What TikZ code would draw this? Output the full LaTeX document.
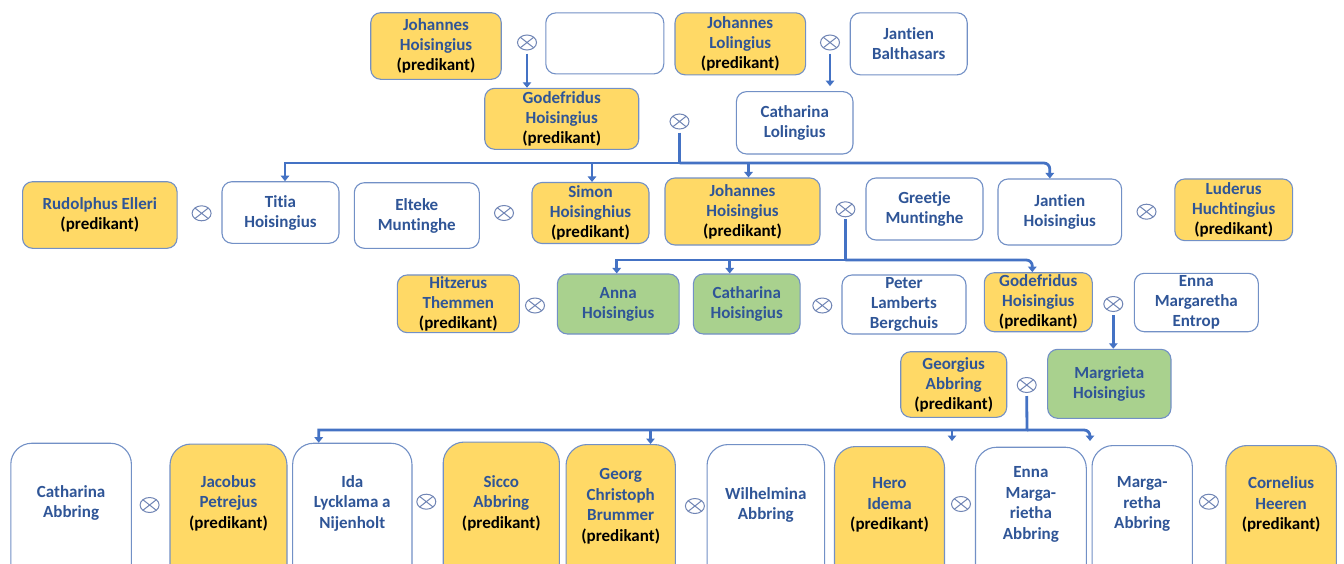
\documentclass[tikz,border=0pt]{standalone}
\usepackage{fontspec}
\setmainfont{Carlito}[Ligatures={NoCommon}]
\usetikzlibrary{arrows.meta,shapes.geometric,calc}
\definecolor{txtblue}{HTML}{2F5597}
\definecolor{gold}{HTML}{FFD966}
\definecolor{grn}{HTML}{A9D18E}
\definecolor{edgeblue}{HTML}{7290C6}
\definecolor{conn}{HTML}{4472C4}
\definecolor{markblue}{HTML}{7085B5}
\tikzset{
  person/.style={draw=edgeblue, line width=1.1pt, rounded corners=10pt, align=center,
    font=\bfseries\fontsize{17}{20}\selectfont, text=txtblue, inner sep=0pt},
  wbox/.style={person, fill=white},
  ybox/.style={person, fill=gold},
  gbox/.style={person, fill=grn},
  lowbox/.style={draw=edgeblue, line width=1.1pt, rounded corners=21pt, anchor=north,
    minimum height=180pt, inner sep=0pt},
  lowtext/.style={align=center, font=\bfseries\fontsize{17}{20.5}\selectfont, text=txtblue, inner sep=0pt},
  marr/.style={ellipse, draw=markblue, line width=1pt, minimum width=19pt, minimum height=15pt,
    inner sep=0pt, path picture={\draw[markblue, line width=1pt]
      (path picture bounding box.north west) -- (path picture bounding box.south east)
      (path picture bounding box.north east) -- (path picture bounding box.south west);}},
  link/.style={draw=conn, line width=2.8pt, -{Triangle[width=8.5pt,length=5.5pt]}},
}
\newcommand{\pred}{\\\textcolor{black}{(predikant)}}
\begin{document}
\begin{tikzpicture}[x=1pt,y=-1pt]
\useasboundingbox (0,0) rectangle (1344,563);
\fill[white] (0,0) rectangle (1344,563);
\clip (0,0) rectangle (1344,563);

% Row 1
\node[ybox, minimum width=130.5, minimum height=66.6] (jh1) at (436,46) {Johannes\\Hoisingius\pred};
\node[wbox, minimum width=118, minimum height=61] (unk) at (604.8,43.4) {};
\node[ybox, minimum width=130.6, minimum height=62] (jl) at (740.3,43.8) {Johannes\\Lolingius\pred};
\node[wbox, minimum width=117, minimum height=62] (jb) at (908.7,43.8) {Jantien\\Balthasars};
\node[marr] (m1) at (527,42.5) {};
\node[marr] (m2) at (830,42.5) {};

% Row 2
\node[ybox, minimum width=154, minimum height=61] (gh1) at (561.7,118.8) {Godefridus\\Hoisingius\pred};
\node[wbox, minimum width=116.6, minimum height=62.3] (cl) at (794.7,122.8) {Catharina\\Lolingius};
\node[marr] (m3) at (679.5,121.5) {};

% Row 3
\node[ybox, minimum width=154.5, minimum height=66.6] (re) at (99.8,215) {Rudolphus Elleri\pred};
\node[marr] (m4) at (201.6,213.3) {};
\node[wbox, minimum width=117, minimum height=61.6] (th) at (280.5,212.5) {Titia\\Hoisingius};
\node[wbox, minimum width=125, minimum height=65.6] (em) at (416.8,215.5) {Elteke\\Muntinghe};
\node[marr] (m5) at (504,213) {};
\node[ybox, minimum width=117, minimum height=61] (sh) at (590.5,213) {Simon\\Hoisinghius\pred};
\node[ybox, minimum width=155, minimum height=67] (jh2) at (742.5,211.5) {Johannes\\Hoisingius\pred};
\node[marr] (m6) at (845.4,209.3) {};
\node[wbox, minimum width=117, minimum height=62] (gm) at (924.5,209) {Greetje\\Muntinghe};
\node[wbox, minimum width=123.6, minimum height=66] (jah) at (1059.8,212) {Jantien\\Hoisingius};
\node[marr] (m7) at (1146.5,211.7) {};
\node[ybox, minimum width=117.8, minimum height=61.7] (lh) at (1233.7,209.8) {Luderus\\Huchtingius\pred};

% Row 4
\node[ybox, minimum width=122, minimum height=57.7] (ht) at (458.3,303.8) {Hitzerus\\Themmen\pred};
\node[marr] (m8) at (535,305.5) {};
\node[gbox, minimum width=121.7, minimum height=60] (ah) at (618.2,304) {Anna\\Hoisingius};
\node[gbox, minimum width=106.7, minimum height=60] (ch) at (746.7,304) {Catharina\\Hoisingius};
\node[marr] (m9) at (822.3,305.5) {};
\node[wbox, minimum width=124, minimum height=59] (pb) at (904,304.5) {Peter\\Lamberts\\Bergchuis};
\node[ybox, minimum width=108, minimum height=59] (gh2) at (1038.3,302.2) {Godefridus\\Hoisingius\pred};
\node[marr] (m10) at (1113.3,304) {};
\node[wbox, minimum width=124, minimum height=58.4] (ee) at (1196.3,302.5) {Enna\\Margaretha\\Entrop};

% Row 5
\node[ybox, minimum width=106, minimum height=65.6] (ga) at (953.7,384.5) {Georgius\\Abbring\pred};
\node[marr] (m11) at (1026.7,385) {};
\node[gbox, minimum width=123.3, minimum height=69] (mh) at (1109.3,383.8) {Margrieta\\Hoisingius};

% Row 6 (boxes run off the bottom edge)
\node[lowbox, fill=white, minimum width=120.6] (ca) at (71.1,442.7) {};
\node[lowbox, fill=gold, minimum width=117] (jp) at (228.5,443.5) {};
\node[lowbox, fill=white, minimum width=119.3] (id) at (352.3,442.7) {};
\node[lowbox, fill=gold, minimum width=116.2] (sa) at (501.3,441.5) {};
\node[lowbox, fill=gold, minimum width=109.3] (gc) at (620.7,444) {};
\node[lowbox, fill=white, minimum width=117.5] (wa) at (765.8,444) {};
\node[lowbox, fill=gold, minimum width=110] (hi) at (889.5,446) {};
\node[lowbox, fill=white, minimum width=110.8] (ema) at (1030.9,446.7) {};
\node[lowbox, fill=white, minimum width=100.3] (ma) at (1142.2,445) {};
\node[lowbox, fill=gold, minimum width=110.4] (chr) at (1281.1,445) {};

\node[lowtext] (ca-t) at (71.1,503) {Catharina\\Abbring};
\node[lowtext] (jp-t) at (228.5,503.3) {Jacobus\\Petrejus\pred};
\node[lowtext] (id-t) at (352.3,503) {Ida\\Lycklama a\\Nijenholt};
\node[lowtext] (sa-t) at (501.3,503) {Sicco\\Abbring\pred};
\node[lowtext] (gc-t) at (620.7,506.5) {Georg\\Christoph\\Brummer\pred};
\node[lowtext] (wa-t) at (765.8,505) {Wilhelmina\\Abbring};
\node[lowtext] (hi-t) at (889.5,505) {Hero\\Idema\pred};
\node[lowtext] (ema-t) at (1030.9,504.6) {Enna\\Marga-\\rietha\\Abbring};
\node[lowtext] (ma-t) at (1142.2,504) {Marga-\\retha\\Abbring};
\node[lowtext] (chr-t) at (1281.1,504.7) {Cornelius\\Heeren\pred};
\node[marr] (m12) at (149.6,505) {};
\node[marr] (m13) at (426.3,501.7) {};
\node[marr] (m14) at (694.9,506) {};
\node[marr] (m15) at (961,504) {};
\node[marr] (m16) at (1208.9,501.7) {};

% Connectors
\draw[link] ([yshift=-3]m1.south) -- (m1.south |- gh1.north);
\draw[link] ([yshift=-3]m2.south) -- ([yshift=5]m2.south |- cl.north);

\coordinate (b1) at (679.5,163);
\draw[link] ([yshift=-3]m3.south) -- (b1) -| ([xshift=4.5]th.north);
\draw[link] (b1) -| ([xshift=1.5]sh.north);
\draw[link] (b1) -| ([xshift=6]jh2.north);
\draw[link, rounded corners=6] (b1) -| ([xshift=-10]jah.north);

\coordinate (b2) at (845.4,260);
\draw[link] ([yshift=-2]m6.south) -- (b2) -| ([xshift=-1.5]ah.north);
\draw[link] (b2) -| ([xshift=-17]ch.north);
\draw[link, rounded corners=6] (b2) -| ([xshift=-6]gh2.north);

\draw[link] ([yshift=-3]m10.south) -- (m10.south |- mh.north);

\coordinate (b3) at (1027,430);
\coordinate (e3) at (952,441);
\coordinate (e4) at (1090,441);
\draw[link] ([yshift=-3]m11.south) -- (b3) -| ([xshift=-33.6]id.north);
\draw[link] (b3) -| ([xshift=29.8]gc.north);
\draw[link] (b3) -| (e3);
\draw[link, rounded corners=6] (b3) -| (e4);
\end{tikzpicture}
\end{document}
